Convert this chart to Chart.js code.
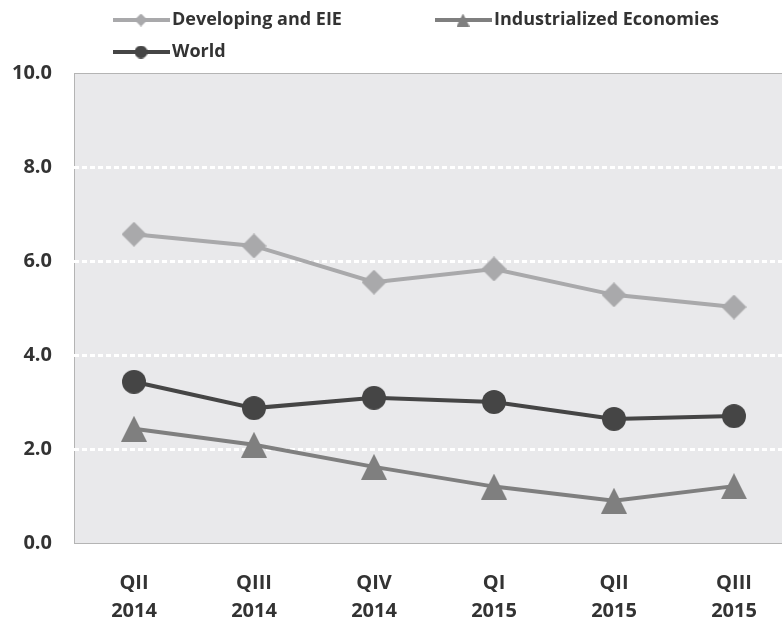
<!DOCTYPE html>
<html>
<head>
<meta charset="utf-8">
<script src="https://cdn.jsdelivr.net/npm/chart.js@4.4.1/dist/chart.umd.min.js"></script>
<style>
    html, body { margin: 0; padding: 0; background: #fff; overflow: hidden; }
</style>
</head>
<body>
<canvas id="chart" width="800" height="621"></canvas>
<script>
// Chart data
var categories = [['QII', '2014'], ['QIII', '2014'], ['QIV', '2014'], ['QI', '2015'], ['QII', '2015'], ['QIII', '2015']];
var seriesNames = ['Developing and EIE', 'Industrialized Economies', 'World'];
var developing = [6.57, 6.32, 5.55, 5.83, 5.28, 5.02];
var industrialized = [2.43, 2.09, 1.62, 1.20, 0.90, 1.21];
var world = [3.43, 2.87, 3.09, 3.00, 2.64, 2.70];
var yTicks = [0, 2, 4, 6, 8, 10];

var colors = ['#a9a9ab', '#7f7f7f', '#454545'];
var FONT = '"Open Sans", sans-serif';

/**
 * Build a small canvas with a marker, used as point style
 */
function makeMarker(shape, color, size) {
    var c = document.createElement('canvas');
    c.width = size;
    c.height = size;
    var g = c.getContext('2d');
    var h = size / 2;
    g.fillStyle = color;
    g.beginPath();
    if (shape === 'diamond') {
        g.moveTo(h, 0);
        g.lineTo(size, h);
        g.lineTo(h, size);
        g.lineTo(0, h);
    } else if (shape === 'triangle') {
        g.moveTo(h, 0);
        g.lineTo(size, size);
        g.lineTo(0, size);
    } else {
        g.arc(h, h, h, 0, Math.PI * 2);
    }
    g.closePath();
    g.fill();
    return c;
}

var pointMarkers = [
    makeMarker('diamond', colors[0], 25),
    makeMarker('triangle', colors[1], 26),
    makeMarker('circle', colors[2], 24)
];
var legendMarkers = [
    makeMarker('diamond', colors[0], 13),
    makeMarker('triangle', colors[1], 13),
    makeMarker('circle', colors[2], 13)
];

// plot background and frame
var plotBackground = {
    id: 'plotBackground',
    beforeDraw: function(chart) {
        var a = chart.chartArea;
        var ctx = chart.ctx;
        ctx.save();
        ctx.fillStyle = '#e9e9eb';
        ctx.fillRect(a.left, a.top, a.right - a.left, a.bottom - a.top);
        ctx.strokeStyle = '#b4b4b4';
        ctx.lineWidth = 1;
        ctx.strokeRect(a.left + 0.5, a.top + 0.5, a.right - a.left, a.bottom - a.top);
        ctx.restore();
    }
};

// legend with line + marker, laid out like the original
var lineLegend = {
    id: 'lineLegend',
    afterDraw: function(chart) {
        var ctx = chart.ctx;
        var spots = [[113, 20], [435, 20], [113, 52]];
        ctx.save();
        ctx.font = 'bold 18px ' + FONT;
        ctx.textBaseline = 'middle';
        ctx.textAlign = 'left';
        for (var i = 0; i < seriesNames.length; i++) {
            var x = spots[i][0], y = spots[i][1];
            ctx.strokeStyle = colors[i];
            ctx.lineWidth = 4;
            ctx.beginPath();
            ctx.moveTo(x, y);
            ctx.lineTo(x + 57, y);
            ctx.stroke();
            var m = legendMarkers[i];
            ctx.drawImage(m, x + 28 - m.width / 2, y - m.height / 2);
            ctx.fillStyle = '#333';
            ctx.fillText(seriesNames[i], x + 59, y);
        }
        ctx.restore();
    }
};

var seriesData = [developing, industrialized, world];
var datasets = seriesData.map(function(d, i) {
    return {
        label: seriesNames[i],
        data: d,
        borderColor: colors[i],
        backgroundColor: colors[i],
        borderWidth: 4,
        tension: 0,
        pointStyle: pointMarkers[i],
        pointRadius: 12,
        pointHoverRadius: 12
    };
});

new Chart(document.getElementById('chart'), {
    type: 'line',
    data: {
        labels: categories,
        datasets: datasets
    },
    plugins: [plotBackground, lineLegend],
    options: {
        responsive: false,
        animation: false,
        layout: {
            autoPadding: false,
            padding: { top: 73, right: 6, left: 0, bottom: 0 }
        },
        plugins: {
            legend: { display: false },
            tooltip: { enabled: false }
        },
        scales: {
            x: {
                offset: true,
                grid: { display: false },
                border: { display: false },
                ticks: {
                    color: '#333',
                    padding: 18,
                    maxRotation: 0,
                    font: { family: FONT, size: 20, weight: 'bold', lineHeight: 1.4 }
                },
                afterFit: function(scale) {
                    scale.height = 78;
                }
            },
            y: {
                min: 0,
                max: 10,
                afterBuildTicks: function(scale) {
                    scale.ticks = yTicks.map(function(v) { return { value: v }; });
                },
                grid: {
                    drawTicks: false,
                    lineWidth: 3,
                    color: function(ctx) {
                        var v = ctx.tick ? ctx.tick.value : 0;
                        return (v === 0 || v === 10) ? 'rgba(0,0,0,0)' : '#ffffff';
                    }
                },
                border: { display: false, dash: [5, 3] },
                ticks: {
                    color: '#333',
                    padding: 22,
                    font: { family: FONT, size: 20, weight: 'bold' },
                    callback: function(v) { return Number(v).toFixed(1); }
                },
                afterFit: function(scale) {
                    scale.width = 74;
                }
            }
        }
    }
});
</script>
</body>
</html>
